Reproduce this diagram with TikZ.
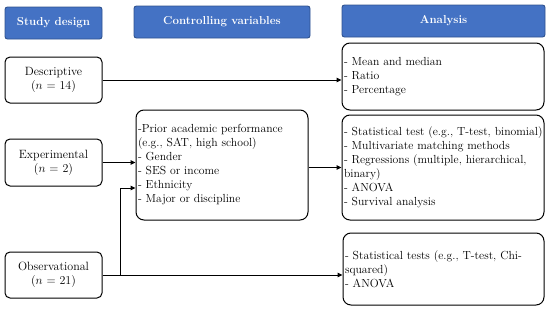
\documentclass[tikz,border=0pt]{standalone}
\usetikzlibrary{arrows.meta}
\definecolor{hdrfill}{HTML}{4472C4}
\definecolor{hdrdraw}{HTML}{2F528F}
\tikzset{
  hdr/.style={draw=hdrdraw, fill=hdrfill, line width=0.9pt, rounded corners=2.5pt,
    text=white, font=\fontsize{11.5}{13}\selectfont\bfseries, inner sep=0pt},
  dbox/.style={draw, line width=1pt, rounded corners=5pt, align=center,
    font=\fontsize{12}{14}\selectfont, inner sep=0pt},
  lbox/.style={draw, line width=1pt, rounded corners=8pt, align=left,
    font=\fontsize{11.7}{14}\selectfont, inner xsep=2pt, inner ysep=0pt},
  arr/.style={line width=1pt, -{Triangle[length=5pt,width=4.5pt]}},
  ln/.style={line width=1pt}
}
\begin{document}
\begin{tikzpicture}[x=1pt,y=-1pt]
\useasboundingbox (0,0) rectangle (550,309);
% headers
\node[hdr, minimum width=97pt, minimum height=32pt] (h1) at (53.5,23) {Study design};
\node[hdr, minimum width=176pt, minimum height=32pt] (h2) at (222,22) {Controlling variables};
\node[hdr, minimum width=203pt, minimum height=32pt] (h3) at (443.5,21) {Analysis};
% study design boxes
\node[dbox, minimum width=97pt, minimum height=46pt] (desc) at (53.5,80) {Descriptive\\($n$ = 14)};
\node[dbox, minimum width=97pt, minimum height=47pt] (exp) at (53.5,162.5) {Experimental\\($n$ = 2)};
\node[dbox, minimum width=97pt, minimum height=46pt] (obs) at (53.5,275) {Observational\\($n$ = 21)};
% controlling
\node[lbox, minimum width=172pt, minimum height=110pt, text width=168pt] (ctrl) at (222,165)
  {-Prior academic performance\\(e.g., SAT, high school)\\- Gender\\- SES or income\\- Ethnicity\\- Major or discipline};
% analysis
\node[lbox, minimum width=202pt, minimum height=67pt, text width=198pt] (a1) at (443,76.5)
  {- Mean and median\\- Ratio\\- Percentage};
\node[lbox, minimum width=202pt, minimum height=105pt, text width=198pt] (a2) at (443,167.5)
  {\mbox{- Statistical test (e.g., T-test, binomial)}\\- Multivariate matching methods\\- Regressions (multiple, hierarchical,\\binary)\\- ANOVA\\- Survival analysis};
\node[lbox, minimum width=201pt, minimum height=72pt, text width=197pt] (a3) at (443.5,269)
  {- Statistical tests (e.g., T-test, Chi-\\squared)\\- ANOVA\\[6pt]};
% connectors
\draw[arr] (desc) -- (desc -| a1.west);
\draw[arr] (exp) -- (exp -| ctrl.west);
\draw[arr] (obs) -- (obs -| a3.west);
\draw[arr] (ctrl.east |- a2) -- (a2.west);
\coordinate (j) at (120.5,275);
\coordinate (e2) at (136,188);
\draw[arr] (j) |- (ctrl.west |- e2);
\end{tikzpicture}
\end{document}
